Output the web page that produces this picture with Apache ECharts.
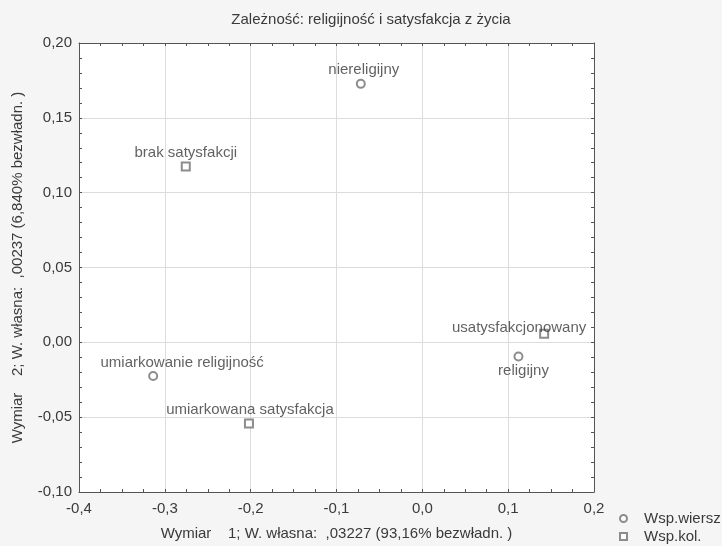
<!DOCTYPE html>
<html><head><meta charset="utf-8">
<script src="https://cdn.jsdelivr.net/npm/echarts@6/dist/echarts.min.js"></script>
<style>html,body{margin:0;padding:0;background:#f5f5f5}#c{width:722px;height:546px}</style>
</head><body><div id="c"></div>
<script>
// Data
var rowNames = ['niereligijny', 'umiarkowanie religijność', 'religijny'];
var rowX = [-0.0717, -0.3136, 0.112];
var rowY = [0.1727, -0.0225, -0.0095];
var colNames = ['brak satysfakcji', 'umiarkowana satysfakcja', 'usatysfakcjonowany'];
var colX = [-0.2756, -0.202, 0.1419];
var colY = [0.1175, -0.0542, 0.0058];
var seriesNames = ['Wsp.wiersz', 'Wsp.kol.'];
var titleText = 'Zależność: religijność i satysfakcja z życia';
var xName = 'Wymiar    1; W. własna:  ,03227 (93,16% bezwładn. )';
var yName = 'Wymiar    2; W. własna:  ,00237 (6,840% bezwładn. )';

// Label styling per point (style, not data)
var labelStyle = {
  'niereligijny': {position: 'top', distance: 1, offset: [3, 0]},
  'umiarkowanie religijność': {position: 'top', distance: 1, offset: [29, 0]},
  'religijny': {position: 'bottom', distance: 2, offset: [5, 0]},
  'brak satysfakcji': {position: 'top', distance: 1, offset: [0, 0]},
  'umiarkowana satysfakcja': {position: 'top', distance: 1, offset: [1, 0]},
  'usatysfakcjonowany': {position: 'top', distance: 1, offset: [-25, 8]}
};

function build(names, xs, ys) {
  return names.map(function (n, i) {
    var ls = labelStyle[n];
    return {name: n, value: [xs[i], ys[i]],
      label: {show: true, position: ls.position, distance: ls.distance, offset: ls.offset}};
  });
}

var font = 'Liberation Sans, Arial, sans-serif';
var fs = 15;
var txtCol = '#3a3a3a';
var axisCol = '#555';
function fmt(d) {
  return function (v) {
    var p = Math.pow(10, d);
    var r = Math.round(v * p) / p;
    if (Math.abs(r) < 1e-12) r = 0;
    return r.toFixed(d).replace('.', ',');
  };
}

var baseX = {type: 'value', min: -0.4, max: 0.2, interval: 0.1,
  axisLine: {show: true, onZero: false, lineStyle: {color: axisCol, width: 1}},
  axisTick: {show: true, inside: true, length: 3, lineStyle: {color: axisCol}},
  minorTick: {show: true, splitNumber: 4, length: 3, lineStyle: {color: axisCol}},
  splitLine: {show: false}};
var baseY = {type: 'value', min: -0.1, max: 0.2, interval: 0.05,
  axisLine: {show: true, onZero: false, lineStyle: {color: axisCol, width: 1}},
  axisTick: {show: true, inside: true, length: 3, lineStyle: {color: axisCol}},
  minorTick: {show: true, splitNumber: 5, length: 3, lineStyle: {color: axisCol}},
  splitLine: {show: false}};

var chart = echarts.init(document.getElementById('c'), null, {renderer: 'canvas'});
chart.setOption({
  backgroundColor: '#f5f5f5',
  animation: false,
  title: {text: titleText, left: 366, top: 7, textAlign: 'center',
    textStyle: {fontFamily: font, fontSize: fs, fontWeight: 'normal', color: txtCol}},
  grid: {left: 79, right: 128, top: 43, bottom: 54, show: true, backgroundColor: '#ffffff', borderWidth: 0},
  legend: {orient: 'vertical', left: 619, bottom: 2, padding: 0, itemWidth: 7, itemHeight: 7, itemGap: 3,
    textStyle: {fontFamily: font, fontSize: fs, color: txtCol, padding: [0, 0, 0, 12]},
    data: [{name: seriesNames[0], icon: 'emptyCircle'}, {name: seriesNames[1], icon: 'emptyRect'}]},
  xAxis: [
    Object.assign({}, baseX, {position: 'bottom',
      splitLine: {show: true, lineStyle: {color: '#dcdcdc', width: 1}},
      axisLabel: {formatter: fmt(1), fontFamily: font, fontSize: fs, color: txtCol, margin: 9},
      name: xName, nameLocation: 'middle', nameGap: 34,
      nameTextStyle: {fontFamily: font, fontSize: fs, color: txtCol}}),
    Object.assign({}, baseX, {position: 'top', axisLabel: {show: false}})
  ],
  yAxis: [
    Object.assign({}, baseY, {position: 'left',
      splitLine: {show: true, lineStyle: {color: '#dcdcdc', width: 1}},
      axisLabel: {formatter: fmt(2), fontFamily: font, fontSize: fs, color: txtCol, margin: 7},
      name: yName, nameLocation: 'middle', nameGap: 54,
      nameTextStyle: {fontFamily: font, fontSize: fs, color: txtCol}}),
    Object.assign({}, baseY, {position: 'right', axisLabel: {show: false}})
  ],
  series: [
    {name: seriesNames[0], type: 'scatter', xAxisIndex: 0, yAxisIndex: 0,
      symbol: 'emptyCircle', symbolSize: 8,
      itemStyle: {color: '#707070', borderColor: '#707070', borderWidth: 1.2},
      label: {color: txtCol, fontFamily: font, fontSize: fs, formatter: '{b}'},
      data: build(rowNames, rowX, rowY)},
    {name: seriesNames[1], type: 'scatter', xAxisIndex: 0, yAxisIndex: 0,
      symbol: 'emptyRect', symbolSize: 8,
      itemStyle: {color: '#707070', borderColor: '#707070', borderWidth: 1.2},
      label: {color: txtCol, fontFamily: font, fontSize: fs, formatter: '{b}'},
      data: build(colNames, colX, colY)}
  ]
});
</script></body></html>
